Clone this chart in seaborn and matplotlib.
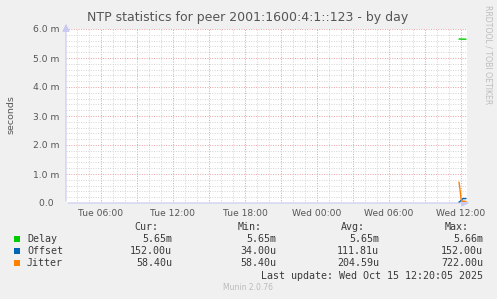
import matplotlib
matplotlib.use("Agg")
import matplotlib.pyplot as plt
import seaborn as sns
import pandas as pd
from matplotlib.ticker import FixedLocator, MultipleLocator, FuncFormatter
from matplotlib.patches import Rectangle

# ---------------- data ----------------
title = "NTP statistics for peer 2001:1600:4:1::123 - by day"
series = ["Delay", "Offset", "Jitter"]
colors = ["#00CC00", "#0066B3", "#FF8000"]
# sample times in hours since Tue 00:00 (5-minute samples)
times_h = [35.8333, 35.9167, 36.0, 36.0833, 36.1667, 36.25, 36.3333, 36.4167]
delay_ms = [5.65, 5.66, 5.65, 5.65, 5.65, 5.65, 5.65, 5.65]
offset_ms = [0.034, 0.050, 0.090, 0.130, 0.152, 0.152, 0.152, 0.152]
jitter_ms = [0.722, 0.470, 0.150, 0.060, 0.0584, 0.0584, 0.0584, 0.0584]
x_tick_hours = [6, 12, 18, 24, 30, 36]
x_tick_labels = ["Tue 06:00", "Tue 12:00", "Tue 18:00", "Wed 00:00", "Wed 06:00", "Wed 12:00"]
y_ticks_ms = [0, 1, 2, 3, 4, 5, 6]
stat_headers = ["Cur:", "Min:", "Avg:", "Max:"]
cur_vals = ["5.65m", "152.00u", "58.40u"]
min_vals = ["5.65m", "34.00u", "58.40u"]
avg_vals = ["5.65m", "111.81u", "204.59u"]
max_vals = ["5.66m", "152.00u", "722.00u"]
last_update = "Last update: Wed Oct 15 12:20:05 2025"
footer = "Munin 2.0.76"
watermark = "RRDTOOL / TOBI OETIKER"
y_label = "seconds"

df = pd.DataFrame({
    "time": times_h * 3,
    "value": delay_ms + offset_ms + jitter_ms,
    "series": [series[0]] * len(times_h) + [series[1]] * len(times_h) + [series[2]] * len(times_h),
})

# ---------------- figure ----------------
sns.set_style("white")
plt.rcParams["font.family"] = ["DejaVu Sans"]
W, H = 497, 299
fig = plt.figure(figsize=(W / 100, H / 100), dpi=100, facecolor="#F0F0F0")

def fx(x):
    return x / W

def fy(y):
    return 1 - y / H

left, right, top, bottom = 66, 467, 29, 203
ax = fig.add_axes([fx(left), fy(bottom), (right - left) / W, (bottom - top) / H])
ax.set_facecolor("white")

sns.lineplot(data=df, x="time", y="value", hue="series", hue_order=series,
             palette=colors, linewidth=1.0, ax=ax, legend=False, zorder=5)

ax.set_xlim(6 - 35 / 12, 6 + 366 / 12)
ax.set_ylim(0, 6)

# ticks and grid
major_x = list(range(3, 37, 3))
ax.xaxis.set_major_locator(FixedLocator(major_x))
lab_map = dict(zip(x_tick_hours, x_tick_labels))
ax.xaxis.set_major_formatter(FuncFormatter(lambda v, p: lab_map.get(int(round(v)), "")))
ax.xaxis.set_minor_locator(MultipleLocator(1))
ax.yaxis.set_major_locator(FixedLocator(y_ticks_ms))
ax.yaxis.set_major_formatter(FuncFormatter(lambda v, p: "0.0\u2007" if v == 0 else f"{v:.1f} m"))
ax.yaxis.set_minor_locator(MultipleLocator(0.2))

ax.grid(which="minor", color="#D4D4D4", linestyle=(0, (1, 1.5)), linewidth=0.7)
ax.grid(which="major", color="#E6A0A0", linestyle=(0, (1, 1.5)), linewidth=0.7)
ax.set_axisbelow(True)

ax.tick_params(axis="both", which="major", length=2.5, width=0.7, color="#E6A0A0",
               labelsize=6.6, labelcolor="#555555", pad=2)
ax.tick_params(axis="both", which="minor", length=2, width=0.7, color="#C8C8C8")
ax.tick_params(axis="x", which="major", pad=1.5)

for s in ax.spines.values():
    s.set_visible(False)
ax.set_xlabel("")
ax.set_ylabel("")

# axis lines with arrows
axis_col = "#C8C8F0"
ax.annotate("", xy=(fx(472), fy(bottom)), xytext=(fx(left - 1), fy(bottom)),
            xycoords="figure fraction",
            arrowprops=dict(arrowstyle="-|>,head_length=0.45,head_width=0.22", color=axis_col, lw=0.8))
ax.annotate("", xy=(fx(left), fy(21)), xytext=(fx(left), fy(bottom + 1)),
            xycoords="figure fraction",
            arrowprops=dict(arrowstyle="-|>,head_length=0.45,head_width=0.22", color=axis_col, lw=0.8))

# title and labels
fig.text(fx(248), fy(18), title, ha="center", va="center", fontsize=9.0, color="#555555")
fig.text(fx(11), fy(115), y_label, ha="center", va="center", rotation=90, fontsize=6.8, color="#555555")
fig.text(fx(488), fy(5), watermark, ha="center", va="top", rotation=270, fontsize=5.6, color="#BDBDBD")

# legend block
mono = "DejaVu Sans Mono"
fs = 7.2
tc = "#3A3A3A"
col_right = [172, 276, 379, 483]
head_right = [158, 262, 365, 469]
for hx, h in zip(head_right, stat_headers):
    fig.text(fx(hx), fy(227), h, ha="right", va="center", family=mono, fontsize=fs, color=tc)
rows_y = [239, 251, 263]
for i, (name, c) in enumerate(zip(series, colors)):
    y = rows_y[i]
    fig.patches.append(Rectangle((fx(14), fy(y + 3)), 6 / W, 6 / H, transform=fig.transFigure,
                                 facecolor=c, edgecolor="none"))
    fig.text(fx(27), fy(y), name, ha="left", va="center", family=mono, fontsize=fs, color=tc)
    for cx, vals in zip(col_right, [cur_vals, min_vals, avg_vals, max_vals]):
        fig.text(fx(cx), fy(y), vals[i], ha="right", va="center", family=mono, fontsize=fs, color=tc)
fig.text(fx(483), fy(276), last_update, ha="right", va="center", family=mono, fontsize=fs, color=tc)
fig.text(fx(248), fy(288), footer, ha="center", va="center", fontsize=5.5, color="#BBBBBB")

fig.savefig("out.png", dpi=100, facecolor=fig.get_facecolor())
